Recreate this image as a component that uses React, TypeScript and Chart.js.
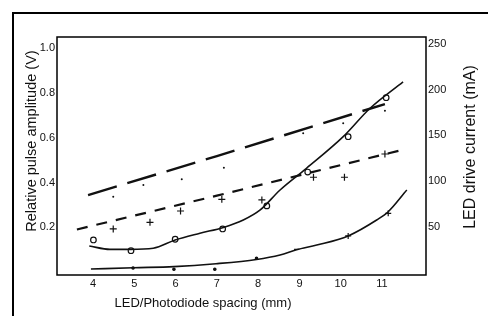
import React, { useEffect, useRef } from "react";
import { Chart, registerables } from "chart.js";

Chart.register(...registerables);

// ---- axis ticks and titles ----
const xTicks = [4, 5, 6, 7, 8, 9, 10, 11];
const leftTicks = [0.2, 0.4, 0.6, 0.8, 1.0];
const rightTicks = [50, 100, 150, 200, 250];
const xTitle = "LED/Photodiode spacing (mm)";
const leftTitle = "Relative pulse amplitude (V)";
const rightTitle = "LED drive current (mA)";

// ---- LED drive current, long-dashed line (mA) + dot markers ----
const longDashX = [3.88, 7.0, 11.07];
const longDashY = [84.6, 127.3, 184.4];
const dotMarkX = [4.49, 5.22, 6.15, 7.17, 9.09, 10.06, 11.07];
const dotMarkY = [82.8, 95.6, 101.9, 114.5, 152.3, 163.3, 177.1];

// ---- LED drive current, short-dashed line (mA) + cross markers ----
const shortDashX = [3.61, 7.0, 11.53];
const shortDashY = [46.8, 83.9, 134.5];
const crossMarkX = [4.49, 5.38, 6.12, 7.12, 8.09, 9.34, 10.09, 11.07];
const crossMarkY = [47.4, 54.7, 67.1, 79.9, 79.2, 104.1, 104.1, 129.6];

// ---- pulse amplitude, upper solid curve (V) + circle markers ----
const ampCurveX = [3.91, 4.41, 4.9, 5.46, 5.99, 6.59, 7.16, 7.64, 8.05, 8.53, 9.17, 10.06, 10.71, 11.51];
const ampCurveY = [0.117, 0.102, 0.102, 0.107, 0.144, 0.174, 0.2, 0.233, 0.278, 0.367, 0.464, 0.605, 0.732, 0.85];
const circleMarkX = [4.01, 4.92, 5.99, 7.14, 8.21, 9.2, 10.18, 11.1];
const circleMarkY = [0.144, 0.096, 0.147, 0.193, 0.296, 0.447, 0.605, 0.779];

// ---- pulse amplitude, lower solid curve (V) + markers ----
const lowCurveX = [3.95, 4.98, 5.96, 6.98, 7.96, 8.53, 8.93, 9.42, 10.18, 10.87, 11.15, 11.6];
const lowCurveY = [0.014, 0.02, 0.025, 0.038, 0.057, 0.077, 0.1, 0.121, 0.162, 0.233, 0.27, 0.367];
const lowMarkX = [4.97, 5.96, 6.95, 7.96, 8.93, 10.18, 11.15];
const lowMarkY = [0.019, 0.013, 0.013, 0.062, 0.102, 0.162, 0.263];

// ---- axis ranges ----
const X_MIN = 3.128;
const X_MAX = 12.065;
const L_MIN = -0.0125;
const L_MAX = 1.05;
const R_MIN = -3.1;
const R_MAX = 257.9;

const INK = "#111";
const FONT = '"Liberation Sans", Arial, sans-serif';

const pts = (xs: number[], ys: number[]) => xs.map((x, i) => ({ x, y: ys[i] }));

const decorPlugin = {
  id: "decor",
  afterDraw(chart: any) {
    const { ctx, chartArea: a } = chart;
    ctx.save();
    // outer scanned frame
    ctx.fillStyle = "#000";
    ctx.fillRect(12, 12, 2, 304);
    ctx.fillRect(12, 12, 476, 2);
    // plot box
    ctx.strokeStyle = "#000";
    ctx.lineWidth = 1.5;
    ctx.strokeRect(a.left, a.top, a.right - a.left, a.bottom - a.top);
    // titles
    ctx.fillStyle = INK;
    ctx.textAlign = "center";
    ctx.textBaseline = "middle";
    ctx.font = `13px ${FONT}`;
    ctx.fillText(xTitle, 203, 303);
    ctx.save();
    ctx.translate(32, 141);
    ctx.rotate(-Math.PI / 2);
    ctx.font = `14.5px ${FONT}`;
    ctx.fillText(leftTitle, 0, 0);
    ctx.restore();
    ctx.save();
    ctx.translate(471, 147);
    ctx.rotate(-Math.PI / 2);
    ctx.font = `16px ${FONT}`;
    ctx.fillText(rightTitle, 0, 0);
    ctx.restore();
    ctx.restore();
  },
};

export default function App() {
  const ref = useRef<HTMLCanvasElement>(null);
  useEffect(() => {
    const canvas = ref.current!;
    const tickFont = { family: FONT, size: 11 };
    const chart = new Chart(canvas, {
      type: "line",
      data: {
        datasets: [
          {
            data: pts(longDashX, longDashY),
            yAxisID: "y1",
            borderColor: INK,
            borderWidth: 2.4,
            borderDash: [30, 11],
            pointRadius: 0,
            tension: 0,
            fill: false,
          },
          {
            data: pts(dotMarkX, dotMarkY),
            yAxisID: "y1",
            showLine: false,
            pointStyle: "circle",
            pointRadius: 1,
            backgroundColor: INK,
            borderColor: INK,
            borderWidth: 0,
          },
          {
            data: pts(shortDashX, shortDashY),
            yAxisID: "y1",
            borderColor: INK,
            borderWidth: 2.2,
            borderDash: [11, 9],
            pointRadius: 0,
            tension: 0,
            fill: false,
          },
          {
            data: pts(crossMarkX, crossMarkY),
            yAxisID: "y1",
            showLine: false,
            pointStyle: "cross",
            pointRadius: 3.5,
            borderColor: INK,
            borderWidth: 1.2,
          },
          {
            data: pts(ampCurveX, ampCurveY),
            yAxisID: "y",
            borderColor: INK,
            borderWidth: 1.6,
            pointRadius: 0,
            cubicInterpolationMode: "monotone",
            fill: false,
          },
          {
            data: pts(circleMarkX, circleMarkY),
            yAxisID: "y",
            showLine: false,
            pointStyle: "circle",
            pointRadius: 2.8,
            backgroundColor: "rgba(255,255,255,0)",
            borderColor: INK,
            borderWidth: 1.2,
          },
          {
            data: pts(lowCurveX, lowCurveY),
            yAxisID: "y",
            borderColor: INK,
            borderWidth: 1.6,
            pointRadius: 0,
            cubicInterpolationMode: "monotone",
            fill: false,
          },
          {
            data: pts(lowMarkX, lowMarkY),
            yAxisID: "y",
            showLine: false,
            pointStyle: ["circle", "circle", "circle", "circle", "line", "cross", "cross"],
            pointRadius: [1.2, 1.2, 1.2, 1.2, 2.5, 3, 3],
            backgroundColor: INK,
            borderColor: INK,
            borderWidth: 1.2,
          },
        ],
      },
      options: {
        animation: false,
        responsive: false,
        devicePixelRatio: 1,
        layout: { padding: { top: 37, left: 0, right: 0, bottom: 0 } },
        plugins: { legend: { display: false }, tooltip: { enabled: false } },
        scales: {
          x: {
            type: "linear",
            min: X_MIN,
            max: X_MAX,
            grid: { display: false, drawTicks: false },
            border: { display: false },
            afterBuildTicks: (s: any) => {
              s.ticks = xTicks.map((v) => ({ value: v }));
            },
            afterFit: (s: any) => {
              s.height = 41;
            },
            ticks: {
              padding: 2,
              font: tickFont,
              color: INK,
              autoSkip: false,
              maxRotation: 0,
              callback: (v: any) => String(v),
            },
          },
          y: {
            type: "linear",
            position: "left",
            min: L_MIN,
            max: L_MAX,
            grid: { display: false, drawTicks: false },
            border: { display: false },
            afterBuildTicks: (s: any) => {
              s.ticks = leftTicks.map((v) => ({ value: v }));
            },
            afterFit: (s: any) => {
              s.width = 57;
            },
            ticks: {
              padding: 2,
              font: tickFont,
              color: INK,
              autoSkip: false,
              callback: (v: any) => Number(v).toFixed(1),
            },
          },
          y1: {
            type: "linear",
            position: "right",
            min: R_MIN,
            max: R_MAX,
            grid: { display: false, drawTicks: false },
            border: { display: false },
            afterBuildTicks: (s: any) => {
              s.ticks = rightTicks.map((v) => ({ value: v }));
            },
            afterFit: (s: any) => {
              s.width = 62;
            },
            ticks: {
              padding: 2,
              font: tickFont,
              color: INK,
              autoSkip: false,
              callback: (v: any) => String(v),
            },
          },
        },
      },
      plugins: [decorPlugin],
    } as any);
    return () => chart.destroy();
  }, []);
  return (
    <canvas
      ref={ref}
      width={488}
      height={316}
      style={{ position: "absolute", left: 0, top: 0, width: 488, height: 316 }}
    />
  );
}
